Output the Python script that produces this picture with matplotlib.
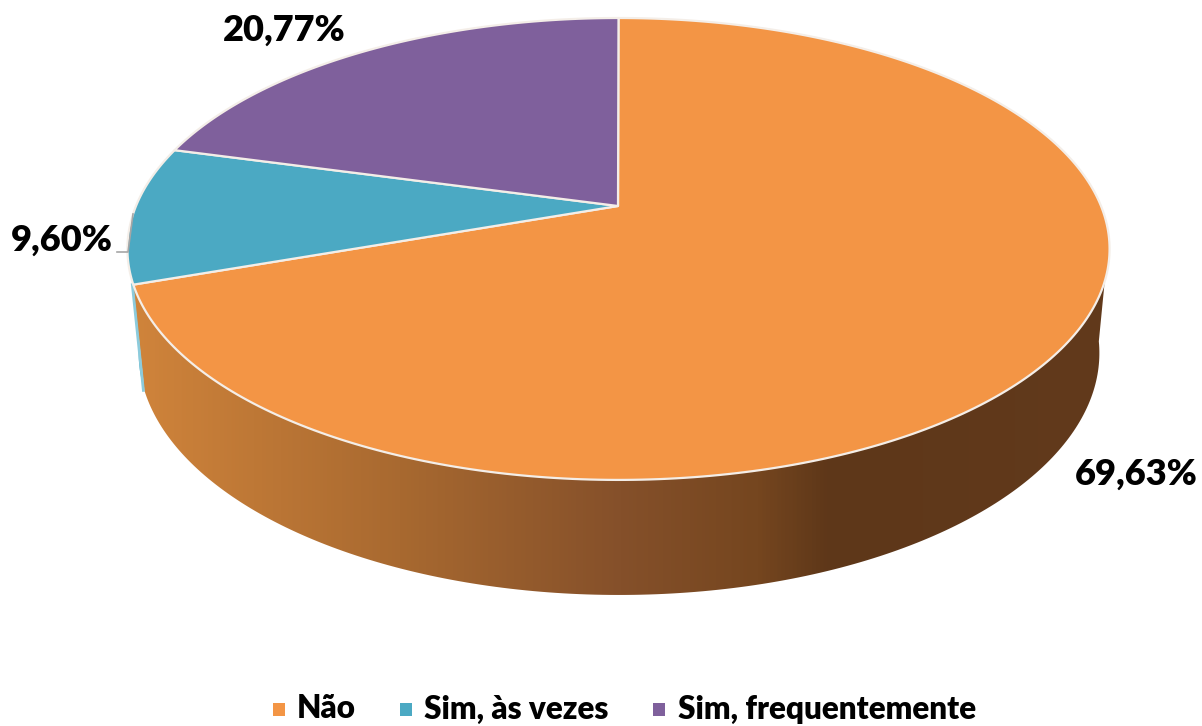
import numpy as np
import matplotlib
matplotlib.use('Agg')
import matplotlib.pyplot as plt
from matplotlib.patches import Polygon, Rectangle
from matplotlib.colors import LinearSegmentedColormap

categories = ['Não', 'Sim, às vezes', 'Sim, frequentemente']
values = [69.63, 9.60, 20.77]
labels = ['69,63%', '9,60%', '20,77%']
colors = ['#F39545', '#4BA9C3', '#7F609C']

plt.rcParams['font.family'] = ['Lato', 'DejaVu Sans']

W, H = 1202, 726
fig = plt.figure(figsize=(W / 100, H / 100), dpi=100)
ax = fig.add_axes([0, 0, 1, 1])
ax.set_xlim(0, W)
ax.set_ylim(H, 0)
ax.axis('off')

# perspective of the pie, the near side of the disc looks larger
c = 0.186


def project(deg, x0, y0, ax_x, ax_y):
    t = np.radians(deg)
    x = np.sin(t)
    y = np.cos(t)
    w = 1 + c * y
    return x0 + ax_x * x / w, (y0 + ax_y * y) / w


def top(deg):
    return project(deg, 618.5, 206, 482.5, -184.65)


def bottom(deg):
    return project(deg, 619, 308, 472, -176.3)


def rim(a, b):
    # outline of the side wall between two angles
    deg = np.linspace(a, b, 200)
    tx, ty = top(deg)
    bx, by = bottom(deg)
    return np.column_stack([np.r_[tx, bx[::-1]], np.r_[ty, by[::-1]]])


edges = np.r_[0, np.cumsum(values)] * 3.6

# side wall, only the first two slices can be seen from the front
ax.add_patch(Polygon(rim(edges[1], edges[2]), closed=True, fc=colors[1], ec='none', zorder=1))

side = Polygon(rim(98, edges[1]), closed=True, fc='none', ec='none', zorder=2)
ax.add_patch(side)
cmap = LinearSegmentedColormap.from_list('side', [
    (0.0, '#D0843B'), (0.274, '#A86930'), (0.5, '#85502A'),
    (0.64, '#75461F'), (0.714, '#5E3719'), (1.0, '#623A1C')])
grad = np.linspace(0, 1, 1024).reshape(1, -1)
im = ax.imshow(grad, extent=[132, 1110, 600, 250], cmap=cmap, aspect='auto', zorder=2)
im.set_clip_path(side)
ax.set_xlim(0, W)
ax.set_ylim(H, 0)

# thin bit of the teal wall left of the orange one
lx = [top(edges[1])[0] - 1, bottom(edges[1])[0] - 1]
ly = [top(edges[1])[1], bottom(edges[1])[1]]
ax.plot(lx, ly, color='#8CCBDC', lw=2, zorder=2.5)

# top face
for i in range(len(values)):
    deg = np.linspace(edges[i], edges[i + 1], 300)
    x, y = top(deg)
    pts = np.column_stack([np.r_[618, x], np.r_[206, y]])
    ax.add_patch(Polygon(pts, closed=True, fc=colors[i], ec='#F4EEE8', lw=1.6,
                         joinstyle='round', zorder=3))

# leader line of the small slice
ax.plot([117, 128, 133], [252, 252, 214], color='#A6A6A6', lw=1.2, zorder=4)

ax.text(1136, 474, labels[0], fontsize=26, fontweight='heavy', ha='center', va='center', color='black')
ax.text(62, 240, labels[1], fontsize=26, fontweight='heavy', ha='center', va='center', color='black')
ax.text(284, 30, labels[2], fontsize=26, fontweight='heavy', ha='center', va='center', color='black')

# legend
sq_x = [273, 400, 653]
txt_x = [297, 424, 678]
for i in range(len(categories)):
    ax.add_patch(Rectangle((sq_x[i], 703), 12, 13, fc=colors[i], ec='none'))
    ax.text(txt_x[i], 709, categories[i], fontsize=22.7, fontweight='heavy', ha='left', va='center', color='black')

fig.savefig('out.png', dpi=100)
